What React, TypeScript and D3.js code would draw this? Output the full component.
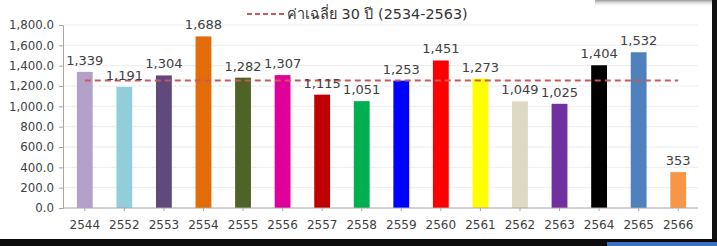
import * as d3 from "d3";
import { useEffect, useRef } from "react";

const years = ["2544", "2552", "2553", "2554", "2555", "2556", "2557", "2558", "2559", "2560", "2561", "2562", "2563", "2564", "2565", "2566"];
const rainfall = [1339, 1191, 1304, 1688, 1282, 1307, 1115, 1051, 1253, 1451, 1273, 1049, 1025, 1404, 1532, 353];
const barColors = ["#b3a2c7", "#92cddc", "#604a7b", "#e36c09", "#4f6228", "#e0009a", "#c00000", "#00b050", "#0000ff", "#ff0000", "#ffff00", "#ddd9c3", "#7030a0", "#000000", "#4f81bd", "#f79646"];
const average30 = 1255;
const yTicks = [0, 200, 400, 600, 800, 1000, 1200, 1400, 1600, 1800];
const legendLabel = "ค่าเฉลี่ย 30 ปี (2534-2563)";

const W = 717;
const H = 246;
const FONT = "'DejaVu Sans', Tahoma, 'Noto Sans', sans-serif";

export default function App() {
  const ref = useRef<SVGSVGElement | null>(null);

  useEffect(() => {
    if (!ref.current) return;
    const svg = d3.select(ref.current);
    svg.selectAll("*").remove();

    const margin = { top: 25, right: 19, bottom: 38, left: 63 };

    const x = d3
      .scaleBand()
      .domain(years)
      .range([margin.left + 2, W - margin.right])
      .paddingInner(0.6)
      .paddingOuter(0.3);

    const y = d3
      .scaleLinear()
      .domain([0, 1800])
      .range([H - margin.bottom, margin.top]);

    // background
    svg.append("rect").attr("width", W).attr("height", H).attr("fill", "#fff");

    // gridlines
    svg
      .append("g")
      .selectAll("line")
      .data(yTicks.slice(1))
      .join("line")
      .attr("x1", margin.left)
      .attr("x2", W - margin.right)
      .attr("y1", (d) => y(d))
      .attr("y2", (d) => y(d))
      .attr("stroke", "#ececec")
      .attr("stroke-width", 1);

    // y axis
    const yAxis = svg
      .append("g")
      .attr("transform", `translate(${margin.left},0)`)
      .call(
        d3
          .axisLeft(y)
          .tickValues(yTicks)
          .tickSize(4)
          .tickPadding(5)
          .tickFormat((d) => d3.format(",.1f")(d as number))
      );
    yAxis.select(".domain").attr("stroke", "#a6a6a6");
    yAxis.selectAll(".tick line").attr("stroke", "#a6a6a6");
    yAxis
      .selectAll("text")
      .attr("font-family", FONT)
      .attr("font-size", 11.8)
      .attr("fill", "#404040");

    // bars
    svg
      .append("g")
      .selectAll("rect")
      .data(rainfall)
      .join("rect")
      .attr("x", (_, i) => x(years[i])!)
      .attr("y", (d) => y(d))
      .attr("width", x.bandwidth())
      .attr("height", (d) => y(0) - y(d))
      .attr("fill", (_, i) => barColors[i]);

    // x axis
    const xAxis = svg
      .append("g")
      .attr("transform", `translate(0,${y(0)})`)
      .call(d3.axisBottom(x).tickSize(3).tickPadding(9).tickSizeOuter(0));
    xAxis.select(".domain").remove();
    xAxis
      .append("line")
      .attr("x1", margin.left)
      .attr("x2", W - margin.right)
      .attr("stroke", "#a6a6a6");
    xAxis.selectAll(".tick line").attr("stroke", "#a6a6a6");
    xAxis
      .selectAll("text")
      .attr("font-family", FONT)
      .attr("font-size", 12)
      .attr("fill", "#404040");

    // 30-year average
    const firstC = x(years[0])! + x.bandwidth() / 2;
    const lastC = x(years[years.length - 1])! + x.bandwidth() / 2;
    svg
      .append("line")
      .attr("x1", firstC)
      .attr("x2", lastC)
      .attr("y1", y(average30))
      .attr("y2", y(average30))
      .attr("stroke", "#c9595a")
      .attr("stroke-width", 2)
      .attr("stroke-dasharray", "6,4");

    // data labels
    svg
      .append("g")
      .selectAll("text")
      .data(rainfall)
      .join("text")
      .attr("x", (_, i) => x(years[i])! + x.bandwidth() / 2)
      .attr("y", (d) => y(d) - 7)
      .attr("text-anchor", "middle")
      .attr("font-family", FONT)
      .attr("font-size", 13)
      .attr("fill", "#404040")
      .text((d) => d3.format(",")(d));

    // legend
    const lg = svg.append("g");
    lg.append("line")
      .attr("x1", 247)
      .attr("x2", 284)
      .attr("y1", 14)
      .attr("y2", 14)
      .attr("stroke", "#c9595a")
      .attr("stroke-width", 2)
      .attr("stroke-dasharray", "5,3");
    lg.append("text")
      .attr("x", 287)
      .attr("y", 19)
      .attr("font-family", FONT)
      .attr("font-size", 14.4)
      .attr("font-weight", 500)
      .attr("fill", "#333")
      .text(legendLabel);

    // screenshot frame edges
    const shade = svg.append("defs").append("linearGradient").attr("id", "shade").attr("x1", 0).attr("x2", 0).attr("y1", 0).attr("y2", 1);
    shade.append("stop").attr("offset", 0).attr("stop-color", "#9a9a9a");
    shade.append("stop").attr("offset", 1).attr("stop-color", "#fff").attr("stop-opacity", 0);
    svg.append("rect").attr("x", 595).attr("y", 0).attr("width", 118).attr("height", 7).attr("fill", "url(#shade)");
    svg.append("rect").attr("x", 712).attr("y", 0).attr("width", 5).attr("height", H).attr("fill", "#111");
    svg.append("rect").attr("x", 0).attr("y", 239).attr("width", W).attr("height", 7).attr("fill", "#0d0d0d");
    svg.append("rect").attr("x", 607).attr("y", 242).attr("width", 110).attr("height", 4).attr("fill", "#3f6fc0");
  }, []);

  return (
    <svg
      ref={ref}
      width={W}
      height={H}
      style={{ position: "absolute", left: 0, top: 0 }}
    />
  );
}
